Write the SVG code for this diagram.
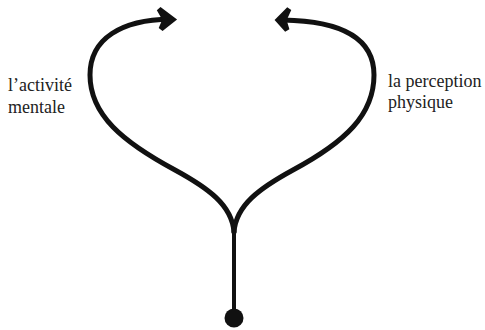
<svg xmlns="http://www.w3.org/2000/svg" width="485" height="330" viewBox="0 0 485 330">
<style>
.lbl{font-family:"Liberation Serif","Times New Roman",serif;font-size:18px;fill:#222}
.arm{fill:none;stroke:#111;stroke-width:5;stroke-linecap:round}
.stem{fill:none;stroke:#111;stroke-width:4}
.head{fill:#111;stroke:#111;stroke-width:5;stroke-linejoin:miter;stroke-linecap:round}
</style>
<rect width="485" height="330" fill="#fff"/>
<g id="connectors">
<path class="stem" d="M234,226 L234,312"/>
<path class="arm" d="M234,232 C232,205 208,188 175,170 C123,142 90,115 90,75 C90,38 122,20 170,19"/>
<path class="arm" d="M234,232 C236,205 260,188 293,170 C345,142 374,115 374,75 C374,38 342,21 283,20"/>
<path class="head" d="M159,9 L173,19.5 L161,29 L165,19.5 Z"/>
<path class="head" d="M289,9 L278,20 L287,30 L284,20 Z"/>
</g>
<g id="root"><circle cx="234" cy="318" r="9.5" fill="#111"/></g>
<g id="left"><text class="lbl" x="8" y="91">l’activité</text><text class="lbl" x="8" y="113">mentale</text></g>
<g id="right"><text class="lbl" x="388" y="87">la perception</text><text class="lbl" x="388" y="108">physique</text></g>
</svg>
